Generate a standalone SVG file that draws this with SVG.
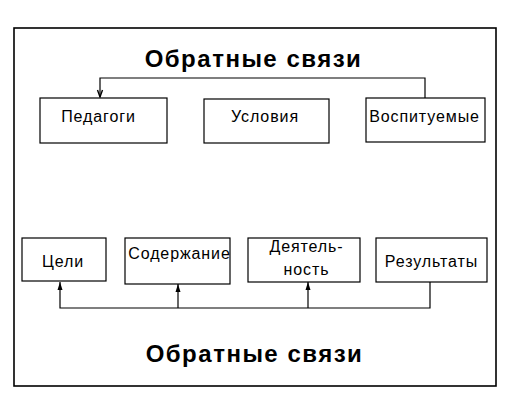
<svg xmlns="http://www.w3.org/2000/svg" width="512" height="413" viewBox="0 0 512 413">
<defs>
<style>
.box{fill:#fff;stroke:#000;stroke-width:1.2}
.lbl{font-family:"Liberation Sans",Arial,sans-serif;font-size:16px;letter-spacing:0.9px;fill:#000;text-anchor:middle}
.ttl{font-family:"Liberation Sans",Arial,sans-serif;font-size:24px;letter-spacing:1.5px;font-weight:bold;fill:#000;text-anchor:middle}
.conn{fill:none;stroke:#000;stroke-width:1.2}
.ah{fill:none;stroke:#000;stroke-width:1.4}
</style>
</defs>
<rect width="512" height="413" fill="#fff"/>
<rect x="14" y="28" width="482" height="358" fill="none" stroke="#000" stroke-width="1.6"/>
<text class="ttl" x="253.5" y="67">Обратные связи</text>
<text class="ttl" x="254.5" y="362">Обратные связи</text>
<g id="connectors">
<path class="conn" d="M425,98 V78 H100 V97"/>
<path class="ah" d="M97.5,90 L100,97 L102.5,90"/>
<path class="conn" d="M430,282 V308 H60 V282"/>
<path class="conn" d="M178,308 V284"/>
<path class="conn" d="M308,308 V282"/>
<path d="M60,282 L62.5,290 L57.5,290 Z" fill="#000"/>
<path d="M178,284 L180.5,292 L175.5,292 Z" fill="#000"/>
<path d="M308,282 L310.5,290 L305.5,290 Z" fill="#000"/>
</g>
<g id="pedagogi"><rect class="box" x="40" y="98" width="127" height="45"/><text class="lbl" x="98.5" y="122">Педагоги</text></g>
<g id="usloviya"><rect class="box" x="204" y="99" width="125" height="44"/><text class="lbl" x="265" y="122">Условия</text></g>
<g id="vospituemye"><rect class="box" x="366" y="98" width="119" height="44"/><text class="lbl" x="424.5" y="122">Воспитуемые</text></g>
<g id="tseli"><rect class="box" x="22" y="238" width="84" height="43"/><text class="lbl" x="63" y="267">Цели</text></g>
<g id="soderzhanie"><rect class="box" x="125" y="238" width="105" height="46"/><text class="lbl" x="179.5" y="259">Содержание</text></g>
<g id="deyatelnost"><rect class="box" x="248" y="238" width="112" height="44"/><text class="lbl" x="306.5" y="252">Деятель-</text><text class="lbl" x="306.5" y="275">ность</text></g>
<g id="rezultaty"><rect class="box" x="376" y="238" width="111" height="44"/><text class="lbl" x="431.5" y="267">Результаты</text></g>
</svg>
